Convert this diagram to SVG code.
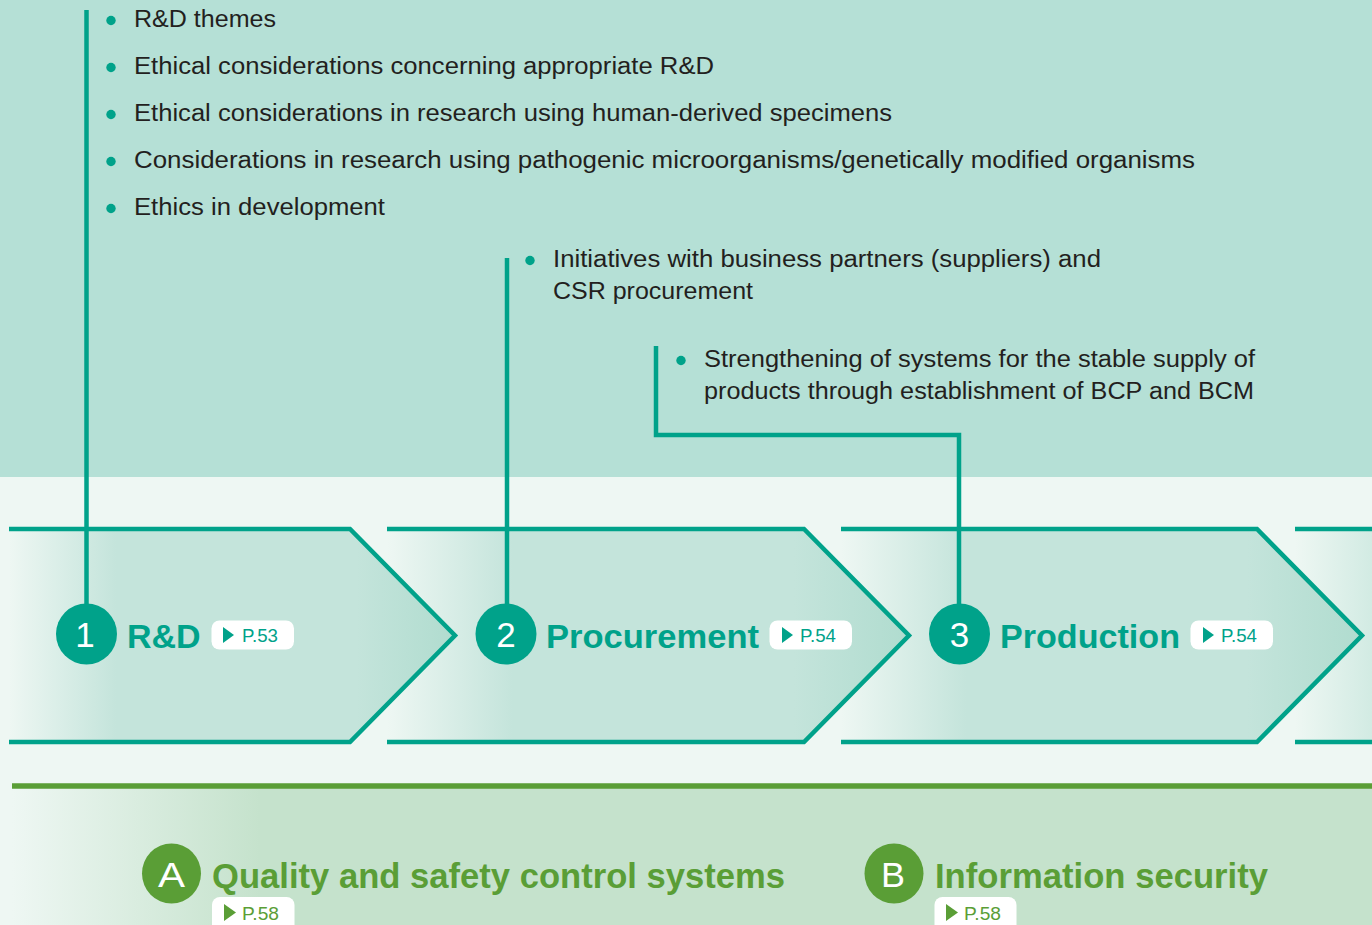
<svg xmlns="http://www.w3.org/2000/svg" width="1372" height="925" viewBox="0 0 1372 925">
<defs>
<linearGradient id="chev" x1="0" y1="0" x2="1" y2="0">
<stop offset="0" stop-color="#eef7f3"/>
<stop offset="0.24" stop-color="#c4e4db"/>
<stop offset="0.78" stop-color="#c4e4db"/>
<stop offset="1" stop-color="#b0dccf"/>
</linearGradient>
<linearGradient id="chev4" x1="0" y1="0" x2="1" y2="0">
<stop offset="0" stop-color="#eef7f3"/>
<stop offset="1" stop-color="#d2ebe3"/>
</linearGradient>
<linearGradient id="band" x1="12" y1="0" x2="260" y2="0" gradientUnits="userSpaceOnUse">
<stop offset="0" stop-color="#eef7f3"/>
<stop offset="1" stop-color="#c5e2cc"/>
</linearGradient>
<style>
.body{font-family:"Liberation Sans",Arial,sans-serif;font-size:23px;fill:#231f20}
.dot{fill:#00a28a}
.edge{fill:none;stroke:#00a28a;stroke-width:4.5}
.conn{fill:none;stroke:#00a28a;stroke-width:4.5}
.title{font-family:"Liberation Sans",Arial,sans-serif;font-weight:bold;font-size:34px;fill:#00a28a}
.num{font-family:"Liberation Sans",Arial,sans-serif;font-size:35px;fill:#ffffff;text-anchor:middle}
.badge{fill:#ffffff}
.pg{font-family:"Liberation Sans",Arial,sans-serif;font-size:18px;fill:#00a28a}
.gtitle{font-family:"Liberation Sans",Arial,sans-serif;font-weight:bold;font-size:35px;fill:#5a9e36}
.gpg{font-family:"Liberation Sans",Arial,sans-serif;font-size:18px;fill:#5a9e36}
</style>
</defs>
<rect x="0" y="0" width="1372" height="925" fill="#eef7f3"/>
<rect x="0" y="0" width="1372" height="477" fill="#b5e0d6"/>

<!-- bullets -->
<g id="rd-topics">
<circle class="dot" cx="111" cy="20.5" r="4.7"/>
<text class="body" x="134" y="27" textLength="142" lengthAdjust="spacingAndGlyphs">R&amp;D themes</text>
<circle class="dot" cx="111" cy="67.5" r="4.7"/>
<text class="body" x="134" y="74" textLength="580" lengthAdjust="spacingAndGlyphs">Ethical considerations concerning appropriate R&amp;D</text>
<circle class="dot" cx="111" cy="114.5" r="4.7"/>
<text class="body" x="134" y="121" textLength="758" lengthAdjust="spacingAndGlyphs">Ethical considerations in research using human-derived specimens</text>
<circle class="dot" cx="111" cy="161.5" r="4.7"/>
<text class="body" x="134" y="168" textLength="1061" lengthAdjust="spacingAndGlyphs">Considerations in research using pathogenic microorganisms/genetically modified organisms</text>
<circle class="dot" cx="111" cy="208.5" r="4.7"/>
<text class="body" x="134" y="215" textLength="251" lengthAdjust="spacingAndGlyphs">Ethics in development</text>
</g>
<g id="proc-topics">
<circle class="dot" cx="530" cy="260.5" r="4.7"/>
<text class="body" x="553" y="267" textLength="548" lengthAdjust="spacingAndGlyphs">Initiatives with business partners (suppliers) and</text>
<text class="body" x="553" y="299" textLength="200" lengthAdjust="spacingAndGlyphs">CSR procurement</text>
</g>
<g id="prod-topics">
<circle class="dot" cx="681" cy="360.5" r="4.7"/>
<text class="body" x="704" y="367" textLength="551" lengthAdjust="spacingAndGlyphs">Strengthening of systems for the stable supply of</text>
<text class="body" x="704" y="399" textLength="550" lengthAdjust="spacingAndGlyphs">products through establishment of BCP and BCM</text>
</g>

<!-- chevron fills, right to left -->
<g id="chevron4">
<rect x="1295" y="529" width="77" height="213" fill="url(#chev4)"/>
<path class="edge" d="M1295 529H1372M1295 742H1372"/>
</g>
<g id="chevron3">
<path d="M841 529H1257L1362 635.5L1257 742H841Z" fill="url(#chev)"/>
<path class="edge" d="M841 529H1257L1362 635.5L1257 742H841"/>
</g>
<g id="chevron2">
<path d="M387 529H804L909 635.5L804 742H387Z" fill="url(#chev)"/>
<path class="edge" d="M387 529H804L909 635.5L804 742H387"/>
</g>
<g id="chevron1">
<path d="M9 529H350L455 635.5L350 742H9Z" fill="url(#chev)"/>
<path class="edge" d="M9 529H350L455 635.5L350 742H9"/>
</g>

<!-- connectors -->
<g id="connectors">
<path class="conn" d="M86.5 10V606"/>
<path class="conn" d="M507 258V606"/>
<path class="conn" d="M656 346V435H959V606"/>
</g>

<!-- stage labels -->
<g id="stage1">
<circle cx="86.5" cy="634" r="30.5" fill="#00a28a"/>
<text class="num" x="85" y="647">1</text>
<text class="title" x="127" y="648">R&amp;D</text>
<rect class="badge" x="211.5" y="620.5" width="82.5" height="29" rx="8"/>
<path d="M223 627L234 635L223 643Z" fill="#00a28a"/>
<text class="pg" x="242" y="642" textLength="36" lengthAdjust="spacingAndGlyphs">P.53</text>
</g>
<g id="stage2">
<circle cx="506" cy="634" r="30.5" fill="#00a28a"/>
<text class="num" x="506" y="647">2</text>
<text class="title" x="546" y="648" textLength="213" lengthAdjust="spacingAndGlyphs">Procurement</text>
<rect class="badge" x="769.5" y="620.5" width="82.5" height="29" rx="8"/>
<path d="M782 627L793 635L782 643Z" fill="#00a28a"/>
<text class="pg" x="800" y="642" textLength="36" lengthAdjust="spacingAndGlyphs">P.54</text>
</g>
<g id="stage3">
<circle cx="959.5" cy="634" r="30.5" fill="#00a28a"/>
<text class="num" x="959.5" y="647">3</text>
<text class="title" x="1000" y="648" textLength="180" lengthAdjust="spacingAndGlyphs">Production</text>
<rect class="badge" x="1190.5" y="620.5" width="82.5" height="29" rx="8"/>
<path d="M1203 627L1214 635L1203 643Z" fill="#00a28a"/>
<text class="pg" x="1221" y="642" textLength="36" lengthAdjust="spacingAndGlyphs">P.54</text>
</g>

<!-- bottom band -->
<rect x="12" y="788" width="1360" height="137" fill="url(#band)"/>
<path d="M12 786H1372" stroke="#5a9e36" stroke-width="5.5" fill="none"/>

<g id="themeA">
<ellipse cx="171.5" cy="873.5" rx="29.5" ry="30" fill="#5a9e36"/>
<text class="num" x="171.5" y="887" textLength="27" lengthAdjust="spacingAndGlyphs">A</text>
<text class="gtitle" x="212" y="888" textLength="573" lengthAdjust="spacingAndGlyphs">Quality and safety control systems</text>
<rect class="badge" x="212" y="897" width="82.5" height="36" rx="8"/>
<path d="M224 904L236 912.5L224 921Z" fill="#5a9e36"/>
<text class="gpg" x="242" y="920" textLength="37" lengthAdjust="spacingAndGlyphs">P.58</text>
</g>
<g id="themeB">
<ellipse cx="894" cy="873.5" rx="29.5" ry="30" fill="#5a9e36"/>
<text class="num" x="893" y="887" textLength="24" lengthAdjust="spacingAndGlyphs">B</text>
<text class="gtitle" x="935" y="888" textLength="333" lengthAdjust="spacingAndGlyphs">Information security</text>
<rect class="badge" x="934.5" y="897" width="82" height="36" rx="8"/>
<path d="M946 904L958 912.5L946 921Z" fill="#5a9e36"/>
<text class="gpg" x="964" y="920" textLength="37" lengthAdjust="spacingAndGlyphs">P.58</text>
</g>
</svg>
